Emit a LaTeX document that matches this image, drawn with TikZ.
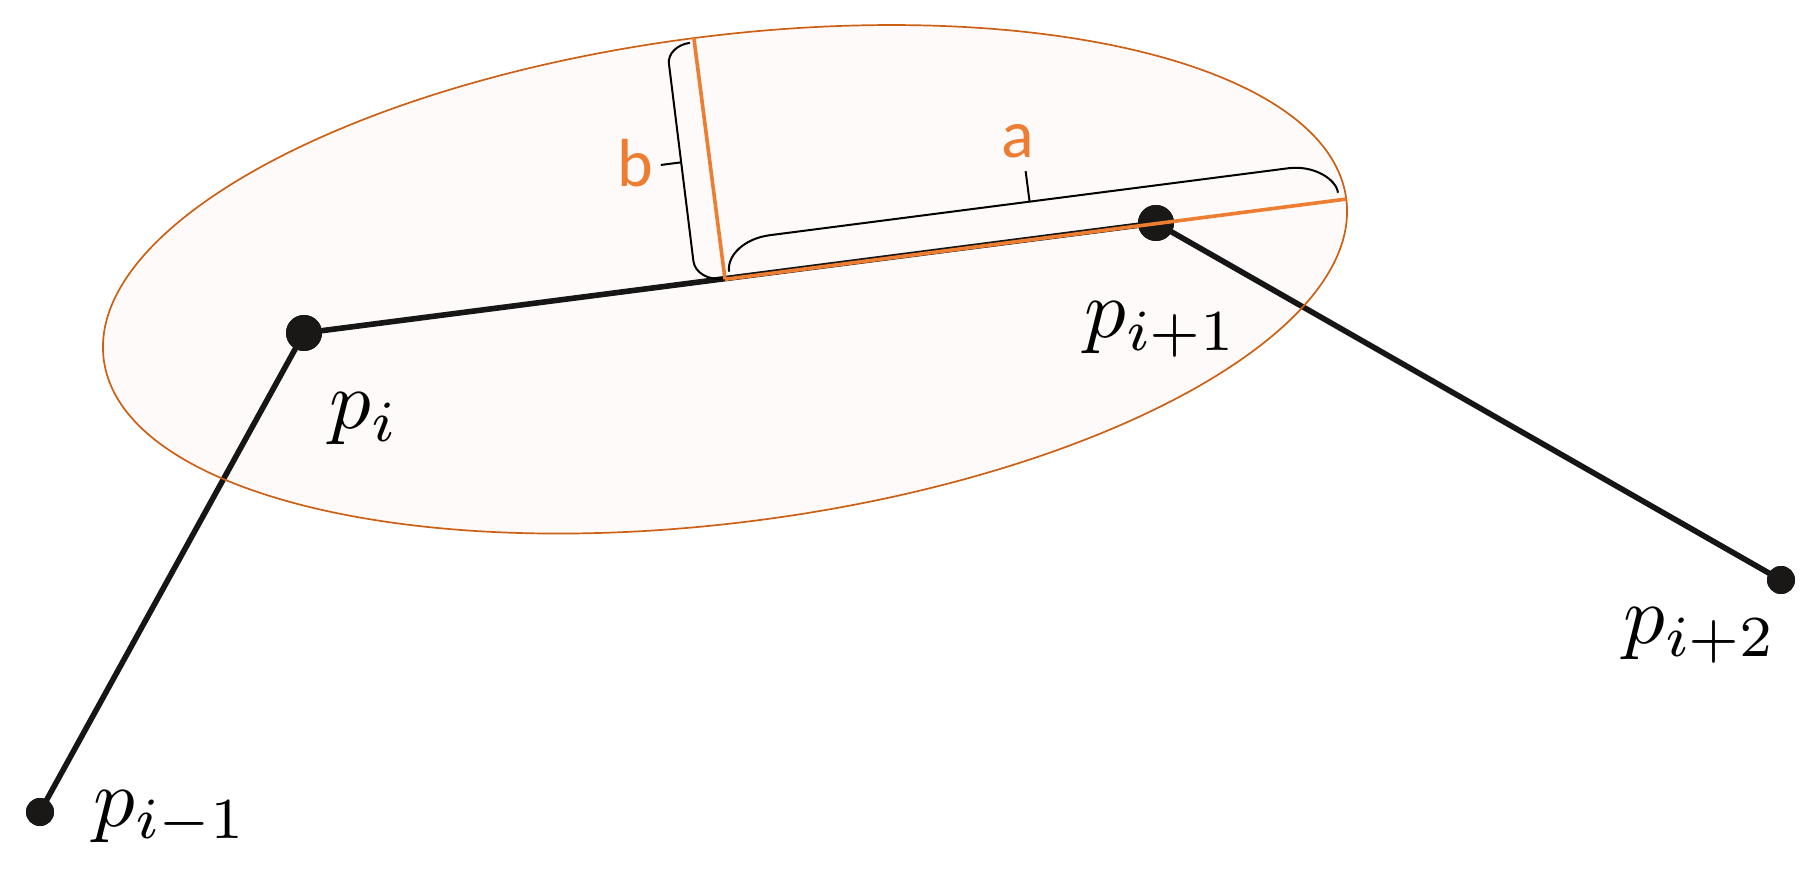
\documentclass[tikz,border=0pt]{standalone}
\usepackage{fontspec}
\newfontfamily\labelfont{Carlito}
\definecolor{dotcol}{RGB}{26,23,23}
\definecolor{linecol}{RGB}{22,22,22}
\definecolor{axorange}{RGB}{237,125,49}
\definecolor{ellline}{RGB}{204,96,20}
\definecolor{ellfill}{RGB}{254,250,249}
\begin{document}
\begin{tikzpicture}[x=0.5pt,y=-0.5pt,
  dotbig/.style={circle,fill=dotcol,inner sep=0pt,minimum size=18pt},
  dotsmall/.style={circle,fill=dotcol,inner sep=0pt,minimum size=14pt},
  poly/.style={draw=linecol,line width=2.8pt},
  axisline/.style={draw=axorange,line width=1.8pt},
  ellstyle/.style={draw=ellline,line width=0.85pt},
  bracestyle/.style={draw=black,line width=1pt},
  plabel/.style={anchor=base west,inner sep=0pt,font=\fontsize{10}{12}\selectfont,scale=4.15,transform shape},
  alabel/.style={anchor=base west,inner sep=0pt,text=axorange,font=\fontsize{34}{40}\selectfont\labelfont}]
\useasboundingbox (0,0) rectangle (1815,876);
% ellipse fill
\begin{scope}[shift={(725,279.3)}, x={(0.4959pt,0.06403pt)}, y={(-0.06403pt,0.4959pt)}]
  \fill[ellfill] (0,0) ellipse [x radius=626.4, y radius=243.2];
\end{scope}
% points
\node[dotsmall] (pim1) at (40,812) {};
\node[dotbig] (pi) at (304,333) {};
\node[dotbig] (pip1) at (1156,223) {};
\node[dotsmall] (pip2) at (1781,580) {};
\draw[poly] (pim1.center) -- (pi.center);
\draw[poly] (pi.center) -- (pip1.center);
\draw[poly] (pip1.center) -- (pip2.center);
\node[dotsmall] at (pim1.center) {};
\node[dotbig] at (pi.center) {};
\node[dotbig] at (pip1.center) {};
\node[dotsmall] at (pip2.center) {};
% ellipse outline, axes and braces
\begin{scope}[shift={(725,279.3)}, x={(0.4959pt,0.06403pt)}, y={(-0.06403pt,0.4959pt)}]
  \draw[ellstyle] (0,0) ellipse [x radius=626.4, y radius=243.2];
  \coordinate (C) at (0,0);
  \coordinate (A) at (626.4,0);
  \coordinate (B) at (0,243.2);
  \draw[axisline] (C) -- (A);
  \draw[axisline] (C) -- (B);
  % brace for b
  \draw[bracestyle] (-2,1) .. controls (-16.9,1) and (-29,10.4) .. (-29,22)
     -- (-28,221) .. controls (-28,230.9) and (-17.5,239) .. (-4.6,239);
  \draw[bracestyle] (-28.5,121.6) -- (-49,121.6);
  % brace for a
  \draw[bracestyle] (5,7) .. controls (5,24.1) and (25.2,38) .. (50,38)
     -- (573,38) .. controls (598.4,38) and (619,21.1) .. (619,7.4);
  \draw[bracestyle] (312,38) -- (312,68.7);
\end{scope}
% labels
\node[plabel] (lpi) at (328,429) {$p_i$};
\node[plabel] (lpip1) at (1083,338) {$p_{i+1}$};
\node[plabel] (lpim1) at (92,826) {$p_{i-1}$};
\node[plabel] (lpip2) at (1622,644) {$p_{i+2}$};
\node[alabel] (la) at (1001,158) {a};
\node[alabel] (lb) at (617,187) {b};
\end{tikzpicture}
\end{document}
